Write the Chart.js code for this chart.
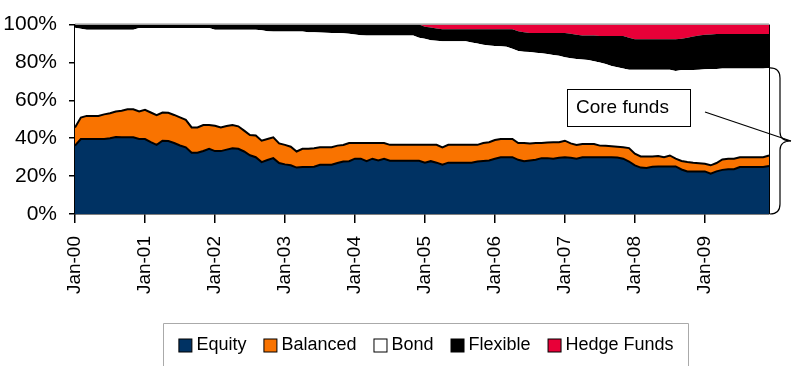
<!DOCTYPE html>
<html>
<head>
<meta charset="utf-8">
<title>Fund allocation</title>
<script src="https://cdn.jsdelivr.net/npm/chart.js@4.4.1/dist/chart.umd.min.js"></script>
<style>
  html, body { margin: 0; padding: 0; background: #fff; }
  #wrap { width: 793px; height: 366px; }
</style>
</head>
<body>
<div id="wrap"><canvas id="alloc-chart" width="793" height="366"></canvas></div>
<script>
(function () {
  'use strict';

  var FONT = "'Liberation Sans', Arial, sans-serif";

  // Monthly share of assets (%), Jan-00 .. Dec-09
  var MONTHS = ['Jan', 'Feb', 'Mar', 'Apr', 'May', 'Jun', 'Jul', 'Aug', 'Sep', 'Oct', 'Nov', 'Dec'];
  var YEARS = ['00', '01', '02', '03', '04', '05', '06', '07', '08', '09'];
  var Y_TICKS = [0, 20, 40, 60, 80, 100];

  var equity = [
    36.1, 39.6, 39.6, 39.6, 39.6, 39.6, 40.0, 40.7, 40.5, 40.5, 40.5, 39.6,
    39.6, 38.0, 36.5, 38.7, 38.5, 37.5, 36.2, 35.2, 32.3, 32.3, 33.3, 34.4,
    33.2, 33.2, 34.0, 34.7, 34.4, 33.0, 31.0, 30.0, 27.4, 28.5, 29.5, 26.9,
    26.2, 25.7, 24.5, 24.8, 24.8, 25.0, 26.0, 26.0, 26.0, 26.9, 27.7, 27.9,
    29.2, 29.2, 27.9, 29.2, 28.3, 29.2, 28.1, 28.1, 28.1, 28.1, 28.1, 28.1,
    27.1, 27.9, 27.1, 26.0, 27.1, 27.1, 27.1, 27.1, 27.1, 27.7, 28.0, 28.3,
    29.2, 30.0, 30.0, 30.0, 28.6, 27.9, 28.3, 28.6, 29.5, 29.5, 29.2, 29.7,
    30.0, 29.7, 29.2, 30.0, 30.0, 30.0, 30.0, 30.0, 30.0, 29.8, 29.2, 27.7,
    25.7, 24.5, 24.3, 25.0, 25.1, 25.1, 25.1, 25.1, 23.5, 22.5, 22.5, 22.5,
    22.5, 21.3, 22.5, 23.3, 23.6, 23.6, 24.8, 24.8, 24.8, 24.8, 24.8, 25.3
  ];
  var balanced = [
    9.6, 11.3, 12.2, 12.2, 12.2, 13.0, 13.2, 13.4, 14.0, 14.8, 14.8, 14.5,
    15.4, 15.6, 15.7, 14.9, 14.9, 14.8, 14.8, 14.5, 13.4, 13.4, 13.7, 12.6,
    13.4, 12.5, 12.5, 12.3, 11.9, 11.0, 10.7, 11.4, 11.3, 11.1, 11.0, 10.4,
    10.3, 9.8, 8.5, 9.6, 9.7, 9.7, 9.2, 9.2, 9.2, 9.2, 8.7, 9.6,
    8.3, 8.3, 9.6, 8.3, 9.2, 8.3, 8.4, 8.4, 8.4, 8.4, 8.4, 8.4,
    9.4, 8.6, 9.4, 9.2, 9.4, 9.4, 9.4, 9.4, 9.4, 8.8, 9.5, 9.6,
    9.9, 9.6, 9.6, 9.6, 8.9, 9.6, 8.9, 8.9, 8.0, 8.2, 8.7, 8.2,
    8.7, 7.6, 7.3, 7.0, 7.0, 7.0, 6.1, 6.0, 5.8, 5.7, 6.0, 7.1,
    6.1, 5.9, 6.1, 5.4, 5.5, 4.9, 5.8, 4.1, 4.5, 5.0, 4.6, 4.3,
    4.0, 4.4, 4.4, 5.5, 5.6, 5.6, 5.2, 5.2, 5.2, 5.2, 5.2, 5.6
  ];
  var bond = [
    52.6, 46.9, 45.5, 45.5, 45.5, 44.7, 44.1, 43.2, 42.8, 42.0, 42.0, 44.1,
    43.2, 44.6, 46.0, 44.6, 44.8, 45.9, 47.2, 48.5, 52.5, 52.5, 51.2, 51.2,
    50.7, 51.6, 50.8, 50.3, 51.0, 53.3, 55.6, 55.9, 58.3, 56.9, 55.8, 59.0,
    59.8, 60.8, 63.3, 61.9, 61.5, 61.2, 60.6, 60.5, 60.4, 59.4, 59.0, 57.7,
    57.3, 56.9, 56.7, 56.7, 56.7, 56.7, 57.7, 57.7, 57.7, 57.7, 57.7, 56.6,
    56.0, 55.3, 55.0, 56.0, 54.7, 54.7, 54.7, 54.7, 54.0, 53.5, 51.8, 51.1,
    49.6, 49.0, 48.7, 47.6, 48.5, 48.1, 48.3, 47.7, 47.4, 46.8, 46.1, 45.6,
    44.1, 44.9, 45.4, 44.6, 44.3, 43.7, 43.9, 43.2, 42.4, 42.0, 41.6, 41.3,
    44.3, 45.7, 45.7, 45.7, 45.5, 46.1, 45.2, 46.3, 48.0, 48.5, 48.9, 49.4,
    49.9, 50.9, 49.7, 48.0, 47.6, 47.6, 46.8, 46.8, 46.8, 46.8, 46.8, 46.2
  ];
  var flexible = [
    1.7, 2.2, 2.7, 2.7, 2.7, 2.7, 2.7, 2.7, 2.7, 2.7, 2.7, 1.8,
    1.8, 1.8, 1.8, 1.8, 1.8, 1.8, 1.8, 1.8, 1.8, 1.8, 1.8, 1.8,
    2.7, 2.7, 2.7, 2.7, 2.7, 2.7, 2.7, 2.7, 3.0, 3.5, 3.7, 3.7,
    3.7, 3.7, 3.7, 3.7, 4.0, 4.1, 4.2, 4.3, 4.4, 4.5, 4.6, 4.8,
    5.2, 5.6, 5.8, 5.8, 5.8, 5.8, 5.8, 5.8, 5.8, 5.8, 5.8, 6.9,
    6.3, 6.7, 6.5, 6.3, 6.3, 6.3, 6.3, 6.3, 7.0, 7.5, 8.2, 8.5,
    8.8, 8.9, 9.2, 10.3, 10.5, 10.4, 10.0, 10.3, 10.6, 11.0, 11.5, 12.0,
    12.7, 13.0, 12.8, 12.6, 12.9, 13.5, 14.0, 14.8, 15.8, 16.5, 17.2, 16.9,
    16.2, 16.2, 16.2, 16.2, 16.2, 16.2, 16.2, 16.8, 16.5, 17.0, 17.7, 18.1,
    18.2, 18.2, 18.4, 18.2, 18.2, 18.2, 18.2, 18.2, 18.2, 18.2, 18.2, 17.9
  ];
  var hedgeFunds = [
    0, 0, 0, 0, 0, 0, 0, 0, 0, 0, 0, 0,
    0, 0, 0, 0, 0, 0, 0, 0, 0, 0, 0, 0,
    0, 0, 0, 0, 0, 0, 0, 0, 0, 0, 0, 0,
    0, 0, 0, 0, 0, 0, 0, 0, 0, 0, 0, 0,
    0, 0, 0, 0, 0, 0, 0, 0, 0, 0, 0, 0,
    1.2, 1.5, 2.0, 2.5, 2.5, 2.5, 2.5, 2.5, 2.5, 2.5, 2.5, 2.5,
    2.5, 2.5, 2.5, 2.5, 3.5, 4.0, 4.5, 4.5, 4.5, 4.5, 4.5, 4.5,
    4.5, 4.8, 5.3, 5.8, 5.8, 5.8, 6.0, 6.0, 6.0, 6.0, 6.0, 7.0,
    7.7, 7.7, 7.7, 7.7, 7.7, 7.7, 7.7, 7.7, 7.5, 7.0, 6.3, 5.7,
    5.4, 5.2, 5.0, 5.0, 5.0, 5.0, 5.0, 5.0, 5.0, 5.0, 5.0, 5.0
  ];

  var labels = [];
  YEARS.forEach(function (yy) {
    MONTHS.forEach(function (mm) { labels.push(mm + '-' + yy); });
  });

  function series(label, data, color, fill, border) {
    return {
      label: label,
      data: data,
      backgroundColor: color,
      borderColor: '#000',
      borderWidth: border ? 2 : 0,
      pointRadius: 0,
      pointHoverRadius: 0,
      tension: 0,
      fill: fill
    };
  }

  // Plot frame, "Core funds" callout with brace, and the boxed legend
  var decor = {
    id: 'decor',
    afterDraw: function (chart) {
      var ctx = chart.ctx;
      var area = chart.chartArea;
      var y = chart.scales.y;
      ctx.save();

      ctx.strokeStyle = '#777';
      ctx.lineWidth = 1;
      ctx.beginPath();
      ctx.moveTo(area.left, area.top - 0.5);
      ctx.lineTo(area.right, area.top - 0.5);
      ctx.stroke();
      ctx.strokeStyle = '#000';
      ctx.beginPath();
      ctx.moveTo(area.right + 0.5, area.top);
      ctx.lineTo(area.right + 0.5, area.bottom);
      ctx.stroke();

      // brace spans the core funds (equity + balanced + bond) at the last month
      var n = equity.length - 1;
      var coreTop = y.getPixelForValue(equity[n] + balanced[n] + bond[n]);
      var coreBot = y.getPixelForValue(0);
      var mid = (coreTop + coreBot) / 2;
      var bx0 = area.right + 1, bx1 = area.right + 11, tip = area.right + 22;
      ctx.lineWidth = 1.2;
      ctx.beginPath();
      ctx.moveTo(bx0, coreTop);
      ctx.quadraticCurveTo(bx1, coreTop, bx1, coreTop + 10);
      ctx.lineTo(bx1, mid - 9);
      ctx.quadraticCurveTo(bx1, mid, tip, mid);
      ctx.quadraticCurveTo(bx1, mid, bx1, mid + 9);
      ctx.lineTo(bx1, coreBot - 10);
      ctx.quadraticCurveTo(bx1, coreBot, bx0, coreBot);
      ctx.stroke();

      ctx.beginPath();
      ctx.moveTo(705, 112);
      ctx.lineTo(tip, mid);
      ctx.stroke();

      ctx.fillStyle = '#fff';
      ctx.fillRect(567.5, 89.5, 123, 37);
      ctx.lineWidth = 1;
      ctx.strokeRect(567.5, 89.5, 123, 37);
      ctx.fillStyle = '#000';
      ctx.font = '19px ' + FONT;
      ctx.textBaseline = 'middle';
      ctx.textAlign = 'left';
      ctx.fillText('Core funds', 576, 108);

      // legend
      ctx.font = '18px ' + FONT;
      var boxL = 163.5, boxR = 688.5, boxT = 323.5, boxB = 366;
      ctx.strokeStyle = '#aaa';
      ctx.beginPath();
      ctx.moveTo(boxL, boxB);
      ctx.lineTo(boxL, boxT);
      ctx.lineTo(boxR, boxT);
      ctx.lineTo(boxR, boxB);
      ctx.stroke();

      var sq = 13, gapText = 5, gapItem = 17;
      var items = chart.data.datasets.map(function (ds) {
        return { label: ds.label, color: ds.backgroundColor, w: ctx.measureText(ds.label).width };
      });
      var total = 0;
      items.forEach(function (it, i) { total += sq + gapText + it.w + (i ? gapItem : 0); });
      var x = (boxL + boxR) / 2 - total / 2;
      var cy = 345;
      ctx.strokeStyle = '#000';
      items.forEach(function (it) {
        ctx.fillStyle = it.color;
        ctx.fillRect(x + 0.5, cy - sq / 2 + 0.5, sq, sq);
        ctx.strokeRect(x + 0.5, cy - sq / 2 + 0.5, sq, sq);
        ctx.fillStyle = '#000';
        ctx.fillText(it.label, x + sq + gapText, cy);
        x += sq + gapText + it.w + gapItem;
      });

      ctx.restore();
    }
  };

  new Chart(document.getElementById('alloc-chart'), {
    type: 'line',
    data: {
      labels: labels,
      datasets: [
        series('Equity', equity, '#003263', 'origin', true),
        series('Balanced', balanced, '#F97300', '-1', true),
        series('Bond', bond, '#FFFFFF', '-1', false),
        series('Flexible', flexible, '#000000', '-1', false),
        series('Hedge Funds', hedgeFunds, '#E80038', '-1', false)
      ]
    },
    options: {
      responsive: false,
      animation: false,
      devicePixelRatio: 1,
      layout: { padding: { top: 22, right: 24, left: 0, bottom: 0 } },
      plugins: {
        legend: { display: false },
        tooltip: { enabled: false }
      },
      scales: {
        x: {
          type: 'category',
          offset: false,
          grid: { display: true, drawOnChartArea: false, tickLength: 9, color: '#000', lineWidth: 1.5 },
          border: { display: true, color: '#000', width: 1.5 },
          ticks: {
            autoSkip: false,
            minRotation: 90,
            maxRotation: 90,
            padding: 13,
            color: '#000',
            font: { family: FONT, size: 19 },
            callback: function (v, i) { return i % 12 === 0 ? this.getLabelForValue(v) : null; }
          },
          afterFit: function (s) { s.height = 152; }
        },
        y: {
          stacked: true,
          min: 0,
          max: 100,
          grid: { display: true, drawOnChartArea: false, tickLength: 6, color: '#000', lineWidth: 1.5 },
          border: { display: true, color: '#000', width: 1.5 },
          afterBuildTicks: function (s) { s.ticks = Y_TICKS.map(function (v) { return { value: v }; }); },
          ticks: {
            padding: 12,
            color: '#000',
            font: { family: FONT, size: 21 },
            callback: function (v) { return v + '%'; }
          },
          afterFit: function (s) { s.width = 75; }
        }
      }
    },
    plugins: [decor]
  });
})();
</script>
</body>
</html>
